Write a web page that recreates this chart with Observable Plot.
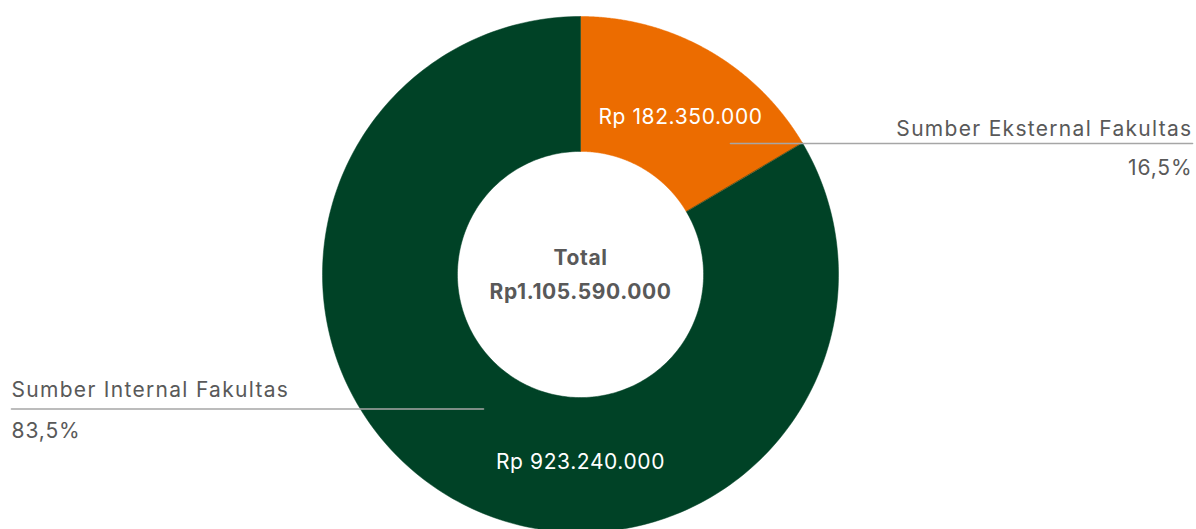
<!DOCTYPE html>
<html>
<head>
<meta charset="utf-8">
<script src="https://cdn.jsdelivr.net/npm/d3@7"></script>
<script src="https://cdn.jsdelivr.net/npm/@observablehq/plot@0.6"></script>
<style>
  html, body { margin: 0; padding: 0; background: #fff; }
  #chart svg { display: block; }
</style>
</head>
<body>
<div id="chart"></div>
<script>
// ---- data ----
const categories = ["Sumber Eksternal Fakultas", "Sumber Internal Fakultas"];
const amounts = [182350000, 923240000];
const amountLabels = ["Rp 182.350.000", "Rp 923.240.000"];
const percentLabels = ["16,5%", "83,5%"];
const colors = ["#EC6C00", "#004226"];
const totalLabel = ["Total", "Rp1.105.590.000"];

// ---- geometry (units of outer radius) ----
const W = 1196, H = 529;
const R = 258;          // outer radius px
const cx = 580, cy = 274;
const inner = 0.477;

const pie = d3.pie().sort(null).value(d => d)(amounts);
const arcPts = [];
pie.forEach((p, i) => {
  const n = 240;
  const pts = [];
  for (let k = 0; k <= n; k++) {
    const a = p.startAngle + (p.endAngle - p.startAngle) * k / n;
    pts.push([Math.sin(a), Math.cos(a)]);
  }
  for (let k = n; k >= 0; k--) {
    const a = p.startAngle + (p.endAngle - p.startAngle) * k / n;
    pts.push([inner * Math.sin(a), inner * Math.cos(a)]);
  }
  pts.forEach(([x, y]) => arcPts.push({cat: categories[i], x, y}));
});

const px = v => (v - cx) / R;
const py = v => (cy - v) / R;

const font = "Inter, 'Noto Sans', sans-serif";
const gray = "#595959";

const plot = Plot.plot({
  width: W, height: H,
  margin: 0,
  style: {fontFamily: font, background: "#fff"},
  x: {domain: [px(0), px(W)], axis: null},
  y: {domain: [py(H), py(0)], axis: null},
  color: {domain: categories, range: colors},
  marks: [
    Plot.line(arcPts, {x: "x", y: "y", z: "cat", fill: "cat", stroke: "cat", strokeWidth: 0.5, curve: "linear-closed"}),
    // leader lines
    Plot.line([{x: px(730), y: py(143)}, {x: px(1192), y: py(143)}], {x: "x", y: "y", stroke: "#a6a6a6", strokeWidth: 1.6}),
    Plot.line([{x: px(11), y: py(408.5)}, {x: px(483), y: py(408.5)}], {x: "x", y: "y", stroke: "#a6a6a6", strokeWidth: 1.6}),
    // category labels
    Plot.text([categories[0]], {x: px(1192), y: py(135), text: d => d, textAnchor: "end", lineAnchor: "bottom", fontSize: 21, fill: gray}),
    Plot.text([percentLabels[0]], {x: px(1192), y: py(174), text: d => d, textAnchor: "end", lineAnchor: "bottom", fontSize: 21, fill: gray}),
    Plot.text([categories[1]], {x: px(11), y: py(396), text: d => d, textAnchor: "start", lineAnchor: "bottom", fontSize: 21, fill: gray}),
    Plot.text([percentLabels[1]], {x: px(11), y: py(437), text: d => d, textAnchor: "start", lineAnchor: "bottom", fontSize: 21, fill: gray}),
    // value labels
    Plot.text([amountLabels[0]], {x: px(680), y: py(123), text: d => d, textAnchor: "middle", lineAnchor: "bottom", fontSize: 21, fill: "#fff"}),
    Plot.text([amountLabels[1]], {x: px(580), y: py(468), text: d => d, textAnchor: "middle", lineAnchor: "bottom", fontSize: 21, fill: "#fff"}),
    // center
    Plot.text([totalLabel[0]], {x: 0, y: py(264), text: d => d, textAnchor: "middle", lineAnchor: "bottom", fontSize: 21, fontWeight: "bold", fill: gray}),
    Plot.text([totalLabel[1]], {x: 0, y: py(298), text: d => d, textAnchor: "middle", lineAnchor: "bottom", fontSize: 21, fontWeight: "bold", fill: gray})
  ]
});
// widen spacing to approximate the reference's geometric typeface
d3.select(plot).selectAll("text").each(function() {
  const t = this.textContent;
  let ls = 0.6;
  if (categories.includes(t)) ls = 1.3;
  else if (percentLabels.includes(t)) ls = 0.9;
  d3.select(this).attr("letter-spacing", ls);
  if (d3.select(this).attr("text-anchor") === "end") {
    // compensate trailing spacing on right-aligned text
    d3.select(this).attr("dx", ls);
  }
});
document.getElementById("chart").appendChild(plot);
</script>
</body>
</html>
